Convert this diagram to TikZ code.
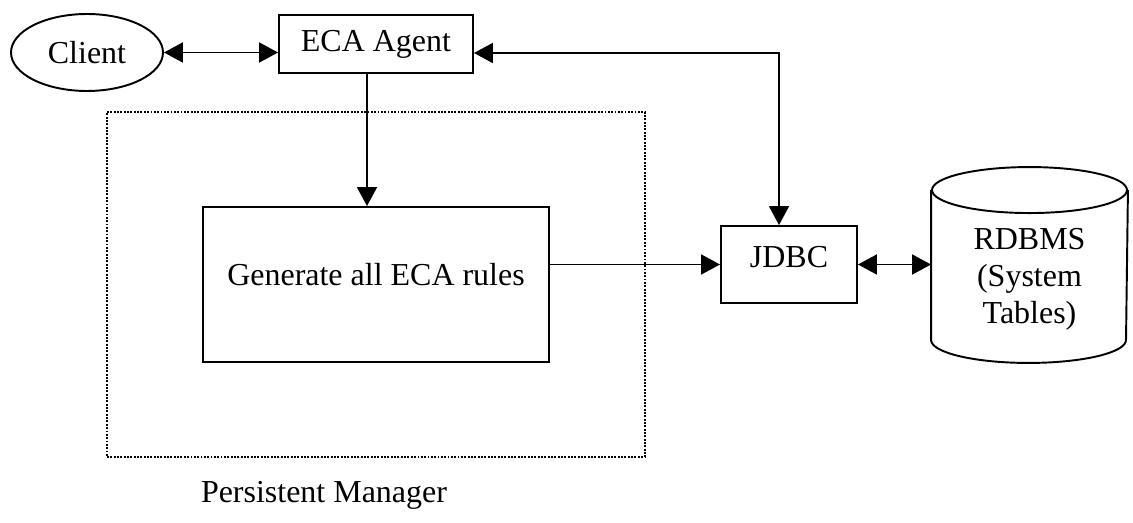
\documentclass[tikz,border=0pt]{standalone}
\usepackage{fontspec}
\setmainfont{Liberation Serif}
\usetikzlibrary{shapes.geometric,arrows.meta}

\begin{document}
\begin{tikzpicture}[x=0.02cm, y=-0.02cm, line width=1.1pt,
  font=\fontsize{18.2}{21}\selectfont,
  box/.style={draw, rectangle, inner sep=0pt},
  link/.style={-{Triangle[length=0.38cm, width=0.4cm]}},
  twoway/.style={{Triangle[length=0.38cm, width=0.4cm]}-{Triangle[length=0.38cm, width=0.4cm]}}]
% Page frame
\useasboundingbox (0,0) rectangle (1133,523);

% Persistent manager area
\node[draw, dash pattern=on 1.1pt off 0.8pt, minimum width=10.76cm, minimum height=6.9cm] (pm) at (376,284.5) {};
\node (pmname) at (324,495) {Persistent Manager};

% Components
\node[draw, ellipse, inner sep=0pt, minimum width=3.04cm, minimum height=1.54cm] (client) at (87,52.5) {Client};
\node[box, minimum width=3.88cm, minimum height=1.16cm] (agent) at (376,44) {ECA Agent};
\node[box, minimum width=6.92cm, minimum height=3.1cm, text height=0.45cm, text depth=0.41cm] (gen) at (376,284.5) {Generate all ECA rules};
\node[box, minimum width=2.72cm, minimum height=1.54cm, text height=0.45cm, text depth=0.31cm] (jdbc) at (789,264.5) {JDBC};

% Database drum
\def\drumry{0.46cm}
\node[inner sep=0pt, minimum width=3.9cm, minimum height=3.88cm] (db) at (1029.5,265) {};
\draw ([yshift=-\drumry]db.north west) -- ([yshift=\drumry]db.south west)
  arc[start angle=180, end angle=360, x radius=1.95cm, y radius=\drumry]
  -- ([yshift=-\drumry]db.north east);
\draw ([yshift=-\drumry]db.north) ellipse [x radius=1.95cm, y radius=\drumry];
\node[align=center] (dbname) at (1029.5,279) {RDBMS\\(System\\Tables)};

% Connections
\draw[twoway] (client.east) -- (client.east -| agent.west);
\draw[link] ([xshift=-0.18cm]agent.south) -- ([xshift=-0.18cm]gen.north);
\draw[link] (gen.east |- jdbc) -- (jdbc.west);
\draw[twoway] ([yshift=-0.18cm]agent.east) -| ([xshift=-0.2cm]jdbc.north);
\draw[twoway] (jdbc.east) -- (jdbc.east -| db.west);

\end{tikzpicture}
\end{document}
